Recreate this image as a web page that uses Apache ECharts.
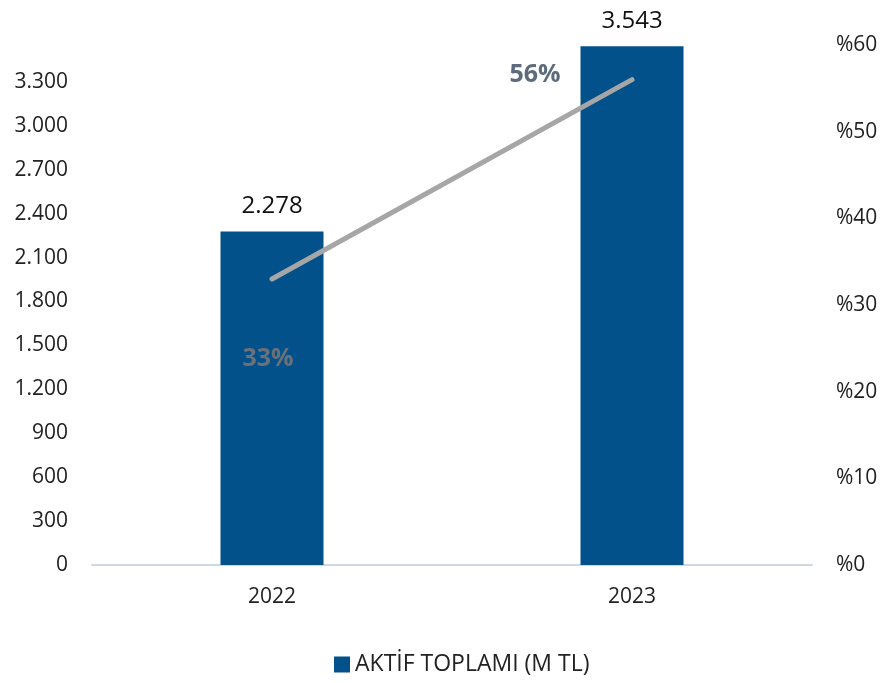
<!DOCTYPE html>
<html>
<head>
<meta charset="utf-8">
<script src="https://cdn.jsdelivr.net/npm/echarts@6/dist/echarts.min.js"></script>
<style>
  html, body { margin: 0; padding: 0; background: #fff; }
  #chart1 { width: 883px; height: 683px; }
</style>
</head>
<body>
<div id="chart1"></div>
<script>
var years = ['2022', '2023'];
var assets = [2278, 3543];
var growth = [33, 56];
var growthLabelOffsets = [[-4, 80], [-97, -5]];
var growthLabelColors = ['#6b7178', '#5d6b7c'];

function fmt(v) {
    return String(v).replace(/\B(?=(\d{3})+(?!\d))/g, '.');
}

var myChart = echarts.init(document.getElementById('chart1'));
var font = '"Open Sans", "Noto Sans", sans-serif';

option = {
    animation: false,
    textStyle: { fontFamily: font },
    legend: {
        data: [{ name: 'AKTİF TOPLAMI (M TL)', icon: 'rect' }],
        bottom: 2,
        left: 329,
        itemWidth: 16,
        itemHeight: 16,
        itemGap: 6,
        textStyle: { fontSize: 23, color: '#222', fontFamily: font }
    },
    grid: {
        left: 92,
        right: 71,
        top: 45,
        bottom: 118
    },
    xAxis: {
        type: 'category',
        data: years,
        axisLine: { lineStyle: { color: '#d0d7e0', width: 2 } },
        axisTick: { show: false },
        axisLabel: { fontSize: 21, color: '#222', margin: 22, fontFamily: font }
    },
    yAxis: [{
        type: 'value',
        min: 0,
        max: 3552,
        interval: 300,
        splitLine: { show: false },
        axisLabel: {
            fontSize: 21, color: '#222', margin: 24, fontFamily: font,
            showMaxLabel: false,
            formatter: function (v) { return fmt(v); }
        }
    }, {
        type: 'value',
        min: 0,
        max: 60,
        interval: 10,
        splitLine: { show: false },
        axisLabel: {
            fontSize: 21, color: '#222', margin: 24, fontFamily: font,
            formatter: function (v) { return '%' + v; }
        }
    }],
    series: [{
        name: 'AKTİF TOPLAMI (M TL)',
        type: 'bar',
        barWidth: 103,
        itemStyle: { color: '#03518a' },
        label: {
            show: true,
            position: 'top',
            distance: 13,
            fontSize: 24,
            color: '#111',
            fontFamily: font,
            formatter: function (p) { return fmt(p.value); }
        },
        data: assets
    }, {
        name: 'growth',
        type: 'line',
        yAxisIndex: 1,
        symbol: 'circle',
        symbolSize: 1,
        itemStyle: { color: '#a6a6a6' },
        lineStyle: { color: '#a6a6a6', width: 5, cap: 'round' },
        data: growth.map(function (v, i) {
            return {
                value: v,
                label: {
                    show: true,
                    position: 'inside',
                    offset: growthLabelOffsets[i],
                    fontSize: 25,
                    fontWeight: 'bold',
                    color: growthLabelColors[i],
                    fontFamily: font,
                    formatter: '{c}%'
                }
            };
        })
    }]
};
myChart.setOption(option);
window.onresize = myChart.resize;
</script>
</body>
</html>
